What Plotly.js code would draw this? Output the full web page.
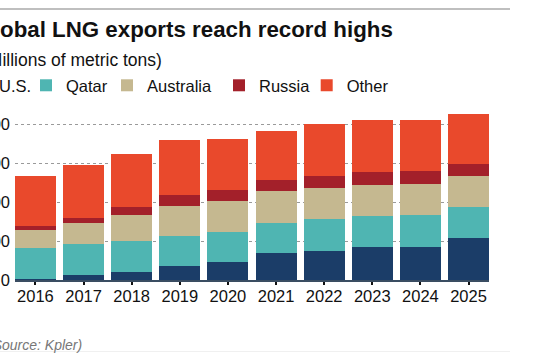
<!DOCTYPE html>
<html><head><meta charset="utf-8">
<script src="https://cdn.plot.ly/plotly-3.0.1.min.js"></script>
<style>
html,body{margin:0;padding:0;width:540px;height:360px;overflow:hidden;background:#fff}
#chart{position:absolute;left:-60px;top:0;width:600px;height:360px}
</style></head><body><div id="chart"></div>
<script>
// Data (million metric tons)
const years = ['2016','2017','2018','2019','2020','2021','2022','2023','2024','2025'];
const usValues        = [3, 12.8, 21.4, 35, 46, 68.4, 75.2, 85.5, 85.5, 108.5];
const qatarValues     = [79, 79.5, 77.8, 78.6, 77.9, 78.6, 80.4, 79.5, 80.5, 79.5];
const australiaValues = [45.4, 54.7, 69.2, 76.9, 78.7, 81.2, 80.4, 80.5, 82, 78.7];
const russiaValues    = [10.2, 12, 18.6, 29.2, 29.9, 28.2, 32.4, 31.7, 32.3, 31.3];
const otherValues     = [129, 136.7, 137, 139.3, 129.5, 125.6, 131.6, 134.3, 131.7, 130];
const seriesNames = ['U.S.', 'Qatar', 'Australia', 'Russia', 'Other'];
const yTicks = [0, 100, 200, 300, 400];

const colors = ['#1b3d68', '#4fb5b2', '#c5b890', '#a3202a', '#e9492c'];
const FONT = 'Liberation Sans, Arial, Helvetica, sans-serif';

// chart div is 600px wide and shifted 60px left (the reference is cropped on the left)
const W = 600, H = 360;
const ML = 75, MR = 51, MT = 104.5, MB = 80;
const PW = W - ML - MR, PH = H - MT - MB;
const px = d => (d - ML) / PW;
const py = d => (H - MB - d) / PH;

// one legend per series so the uneven spacing of the reference can be kept
const legendIds = ['legend', 'legend2', 'legend3', 'legend4', 'legend5'];
const legendLeft = [19, 86, 167, 279, 366.7];

const allValues = [usValues, qatarValues, australiaValues, russiaValues, otherValues];
const traces = allValues.map((vals, i) => ({
  type: 'bar', x: years, y: vals, name: seriesNames[i],
  legend: legendIds[i],
  marker: {color: colors[i], line: {width: 0}},
  hovertemplate: '%{x} ' + seriesNames[i] + ': %{y}<extra></extra>'
}));

const layout = {
  width: W, height: H,
  paper_bgcolor: '#fff', plot_bgcolor: '#fff',
  font: {family: FONT, color: '#111', size: 16.5},
  barmode: 'stack', bargap: 0.15,
  margin: {l: ML, r: MR, t: MT, b: MB, autoexpand: false},
  title: {
    text: '<b>Global LNG exports reach record highs</b>',
    font: {family: FONT, size: 22.3, color: '#111'},
    xref: 'container', x: 36.5 / W, xanchor: 'left',
    yref: 'container', y: 1 - 21 / H, yanchor: 'top'
  },
  xaxis: {
    type: 'category', range: [-0.425, 9.425], fixedrange: true,
    showgrid: false, showline: true, linecolor: '#3a4d62', linewidth: 1.5,
    ticks: 'outside', ticklen: 3, tickwidth: 2, tickcolor: '#111',
    tickfont: {size: 16.5, color: '#111'}, ticklabelstandoff: -3
  },
  yaxis: {
    range: [0, 450], fixedrange: true, tickvals: yTicks,
    showgrid: true, gridcolor: '#9a9a9a', gridwidth: 1, griddash: 'dot',
    zeroline: false, showline: false, ticks: '',
    tickfont: {size: 16.5, color: '#111'}, ticklabelstandoff: 4
  },
  showlegend: true,
  annotations: [
    {text: '(Millions of metric tons)', xref: 'paper', yref: 'paper',
     x: px(39.6), y: py(59), xanchor: 'left', yanchor: 'middle', showarrow: false,
     font: {family: FONT, size: 17.5, color: '#111'}},
    {text: '<i>(Source: Kpler)</i>', xref: 'paper', yref: 'paper',
     x: px(46), y: py(345), xanchor: 'left', yanchor: 'middle', showarrow: false,
     font: {family: FONT, size: 14, color: '#777'}}
  ],
  shapes: [
    {type: 'line', xref: 'paper', yref: 'paper', x0: px(0), x1: px(570), y0: py(8.3), y1: py(8.3),
     line: {color: '#aaa', width: 1.5}},
    {type: 'line', xref: 'paper', yref: 'paper', x0: px(0), x1: px(570), y0: py(351.7), y1: py(351.7),
     line: {color: '#f0f0f0', width: 1}}
  ]
};
legendIds.forEach((id, i) => {
  layout[id] = {
    orientation: 'h', x: px(legendLeft[i]), xanchor: 'left', y: py(85), yanchor: 'middle',
    font: {size: 16.5, color: '#111'}, bgcolor: 'rgba(0,0,0,0)',
    itemclick: false, itemdoubleclick: false
  };
});

Plotly.newPlot('chart', traces, layout, {displayModeBar: false});
</script></body></html>
